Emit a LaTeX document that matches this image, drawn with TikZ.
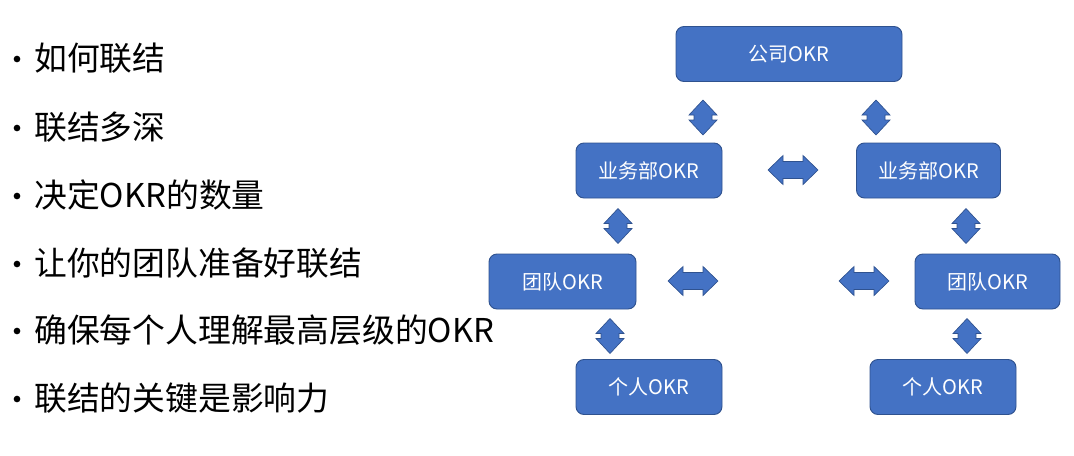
\documentclass[tikz,border=0pt]{standalone}
\usepackage{fontspec}
\setmainfont{Noto Sans CJK SC}
\definecolor{boxfill}{HTML}{4472C4}
\definecolor{boxedge}{HTML}{2F528F}
\begin{document}
\begin{tikzpicture}[x=0.75pt,y=-0.75pt,
  box/.style={draw=boxedge, fill=boxfill, rounded corners=6pt, line width=0.7pt,
    text=white, font=\fontsize{15}{18}\selectfont, inner sep=0pt,
    minimum height=41.25pt},
  item/.style={anchor=west, inner sep=0pt, font=\fontsize{24.6}{28}\selectfont},
  dot/.style={circle, fill=black, inner sep=0pt, minimum size=5pt},
  blk/.style={draw=boxedge, fill=boxfill, line width=0.5pt, line join=miter},
  vdbl/.pic={\path[blk] (0,-17.5) -- (14,-2.5) -- (9,-2.5) -- (9,2.5) -- (14,2.5) -- (0,17.5)
      -- (-14,2.5) -- (-9,2.5) -- (-9,-2.5) -- (-14,-2.5) -- cycle;},
  hdbl/.pic={\path[blk] (-25,0) -- (-10,-14.5) -- (-10,-8.5) -- (10,-8.5) -- (10,-14.5) -- (25,0)
      -- (10,14.5) -- (10,8.5) -- (-10,8.5) -- (-10,14.5) -- cycle;}
]
\useasboundingbox (0,0) rectangle (1074,455);

% bullet list
\foreach \y/\t [count=\i] in {58/如何联结, 127/联结多深, 195/决定OKR的数量, 263/让你的团队准备好联结, 330/确保每个人理解最高层级的OKR, 398/联结的关键是影响力}{
  \node[dot] (b\i) at (17,\y+1) {};
  \node[item] (t\i) at (34,\y) {\t};
}

% boxes
\node[box, minimum width=169.5pt] (co) at (789,54) {公司OKR};
\node[box, minimum width=109.5pt] (bl) at (649,170.5) {业务部OKR};
\node[box, minimum width=108pt] (br) at (928.5,170.5) {业务部OKR};
\node[box, minimum width=110.25pt] (tl) at (562.5,281.5) {团队OKR};
\node[box, minimum width=108.75pt] (tr) at (987.5,281.5) {团队OKR};
\node[box, minimum width=109.5pt] (pl) at (649,387) {个人OKR};
\node[box, minimum width=109.5pt] (pr) at (943,387) {个人OKR};

% block arrows
\pic at (703,117.5) {vdbl};
\pic at (876,117.5) {vdbl};
\pic at (793,170) {hdbl};
\pic at (618,226) {vdbl};
\pic at (966,226) {vdbl};
\pic at (693,281) {hdbl};
\pic at (864,281) {hdbl};
\pic at (610,336) {vdbl};
\pic at (967,336) {vdbl};
\end{tikzpicture}
\end{document}
